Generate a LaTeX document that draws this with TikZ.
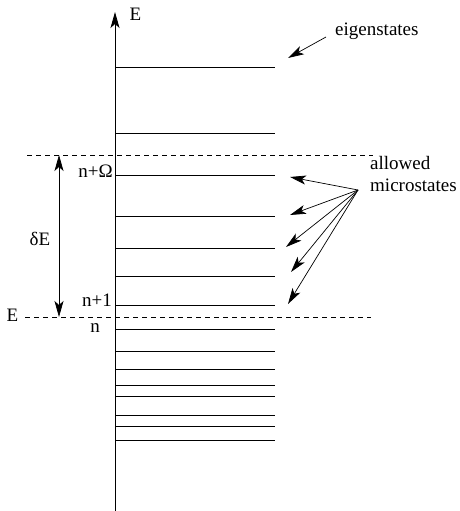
\documentclass[tikz,border=0pt]{standalone}
\usepackage{fontspec}
\setmainfont{Liberation Serif}
\usetikzlibrary{arrows.meta}
\begin{document}
\begin{tikzpicture}[x=1pt,y=-1pt,
  lbl/.style={inner sep=0pt,font=\fontsize{19}{22}\selectfont},
  level/.style={line width=0.8pt},
  bound/.style={line width=0.8pt,dash pattern=on 5pt off 4pt},
  tip/.style={-{Stealth[length=16pt,width=9pt,inset=4pt]}},
  ptr/.style={line width=0.7pt,-{Stealth[length=16pt,width=9pt,inset=4pt]}}]
\useasboundingbox (0,0) rectangle (459,511);
% axis
\coordinate (ax0) at (115,511);
\coordinate (ax1) at (115,12);
\draw[line width=0.8pt,tip] (ax0) -- (ax1);
\node[lbl,anchor=base] (Etop) at (135.5,21) {E};
% levels
\foreach \y in {67,133,175,216,248,276,305,329,351,369,385,396,415,426,440}
  \draw[level] (116,\y) -- (275,\y);
% dashed boundaries
\coordinate (d1a) at (27,155);
\coordinate (d1b) at (373,155);
\coordinate (d2a) at (25,317);
\coordinate (d2b) at (371,317);
\draw[bound] (d1a) -- (d1b);
\draw[bound] (d2a) -- (d2b);
% delta E
\coordinate (dEt) at (59,155);
\coordinate (dEb) at (59,317);
\draw[line width=0.7pt,{Stealth[length=16pt,width=9pt,inset=4pt]}-{Stealth[length=16pt,width=9pt,inset=4pt]}] (dEt) -- (dEb);
\node[lbl,anchor=base] (dE) at (40,245) {δE};
% labels
\node[lbl,anchor=base east] (nO) at (113,177) {n+Ω};
\node[lbl,anchor=base east] (n1) at (112,306) {n+1};
\node[lbl,anchor=base] (n) at (95,332) {n};
\node[lbl,anchor=base] (E) at (12.5,321.5) {E};
% eigenstates
\node[lbl,anchor=base west] (eig) at (335,36) {eigenstates};
\coordinate (eigs) at (326,37);
\coordinate (eigt) at (288,58);
\draw[ptr] (eigs) -- (eigt);
% allowed microstates
\node[lbl,anchor=base west,align=left] (am) at (370,191) {allowed\\microstates};
\coordinate (src) at (358,190);
\coordinate (t1) at (290,177);
\coordinate (t2) at (290,215);
\coordinate (t3) at (286,247);
\coordinate (t4) at (291,272);
\coordinate (t5) at (288,304);
\foreach \t in {t1,t2,t3,t4,t5}
  \draw[ptr] (src) -- (\t);
\end{tikzpicture}
\end{document}
